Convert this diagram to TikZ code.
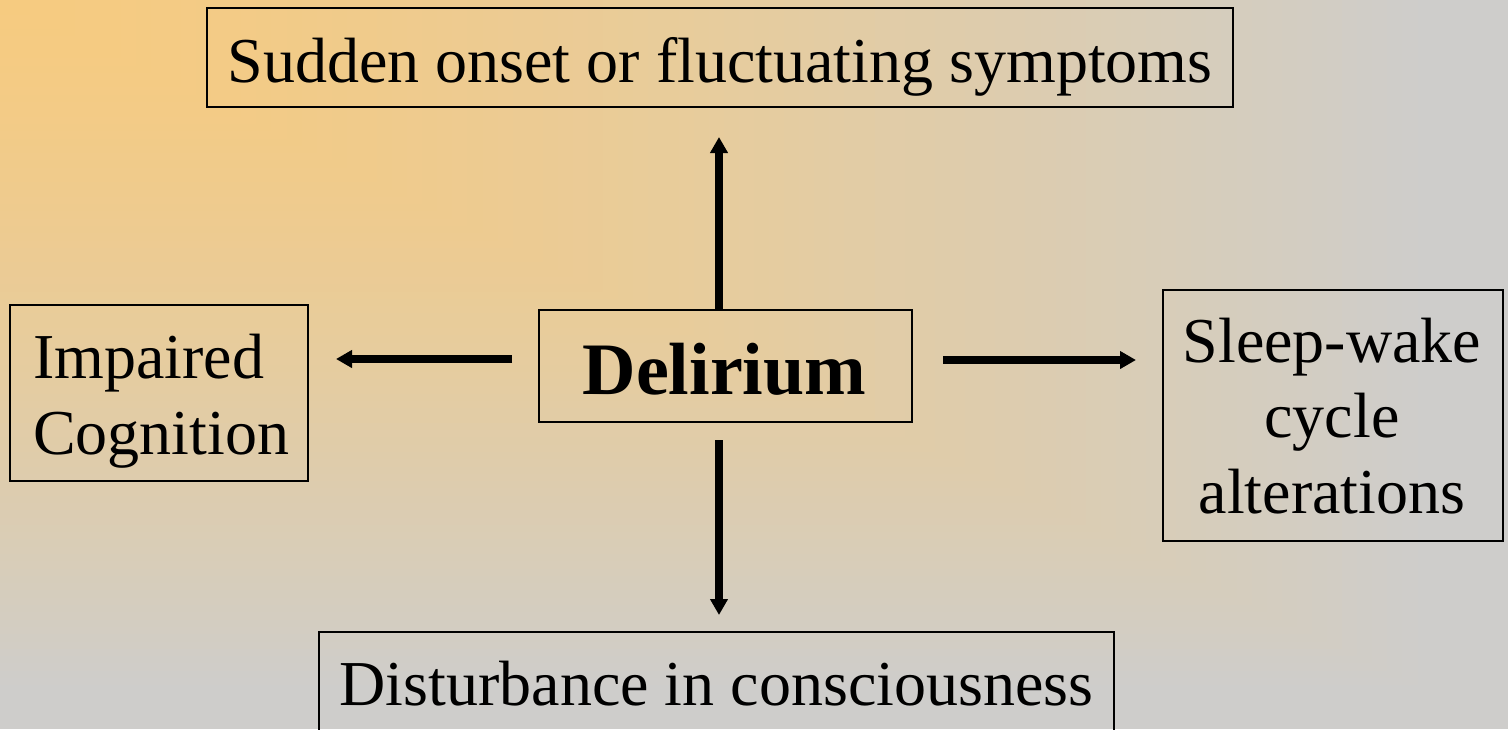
\documentclass[tikz,border=0pt]{standalone}
\usepackage{fontspec}
\setmainfont{Liberation Serif}
\usetikzlibrary{arrows.meta}
\definecolor{org}{RGB}{246,203,128}
\definecolor{gr}{RGB}{206,205,203}
\tikzset{
  box/.style={draw=black, line width=2.5pt, rectangle, inner sep=0pt, outer sep=0pt},
  txt/.style={inner sep=0pt, outer sep=0pt, anchor=base, font=\fontsize{64}{77}\selectfont},
  bigarrow/.style={line width=8pt, -{Triangle[width=17pt,length=16pt]}}
}
\begin{document}
\begin{tikzpicture}[x=1pt,y=1pt]
\useasboundingbox (0,0) rectangle (1508,-729);
\clip (0,0) rectangle (1508,-729);
% background gradient from the top-left corner
\foreach \i in {100,99,...,1}{
  \pgfmathsetmacro{\p}{min(100,100*(\i/95)^1.4)}
  \fill[gr!\p!org] (0,0) rectangle (\i*15.08,-\i*7.29);
}
% boxes
\node[box, minimum width=1026pt, minimum height=99pt]  (top) at (720,-57.5) {};
\node[box, minimum width=298pt,  minimum height=176pt] (lft) at (159,-393) {};
\node[box, minimum width=373pt,  minimum height=112pt] (ctr) at (725.5,-366) {};
\node[box, minimum width=340pt,  minimum height=251pt] (rgt) at (1333,-415.5) {};
\node[box, minimum width=795pt,  minimum height=168pt] (bot) at (716.5,-716) {};
% texts
\node[txt] (ttop) at (720,-82) {Sudden onset or fluctuating symptoms};
\node[txt, font=\fontsize{74}{88}\selectfont\bfseries] (tctr) at (724.5,-394) {Delirium};
\node[txt, anchor=base west] (tl1) at (33,-378) {Impaired};
\node[txt, anchor=base west] (tl2) at (33,-454) {Cognition};
\node[txt] (tr1) at (1332,-362) {Sleep-wake};
\node[txt] (tr2) at (1332,-437) {cycle};
\node[txt] (tr3) at (1332,-513) {alterations};
\node[txt] (tbot) at (716.5,-705) {Disturbance in consciousness};
% arrows
\draw[bigarrow, shorten >=30pt] ([xshift=-6.5pt]ctr.north) -- ([xshift=-1pt]top.south);
\draw[bigarrow, shorten <=18pt, shorten >=17pt] ([xshift=-6.5pt]ctr.south) -- ([xshift=2.5pt]bot.north);
\draw[bigarrow, shorten <=27pt, shorten >=28pt] ([yshift=7pt]ctr.west) -- ([yshift=34pt]lft.east);
\draw[bigarrow, shorten <=31pt, shorten >=27pt] ([yshift=6pt]ctr.east) -- ([yshift=55.5pt]rgt.west);
\end{tikzpicture}
\end{document}
